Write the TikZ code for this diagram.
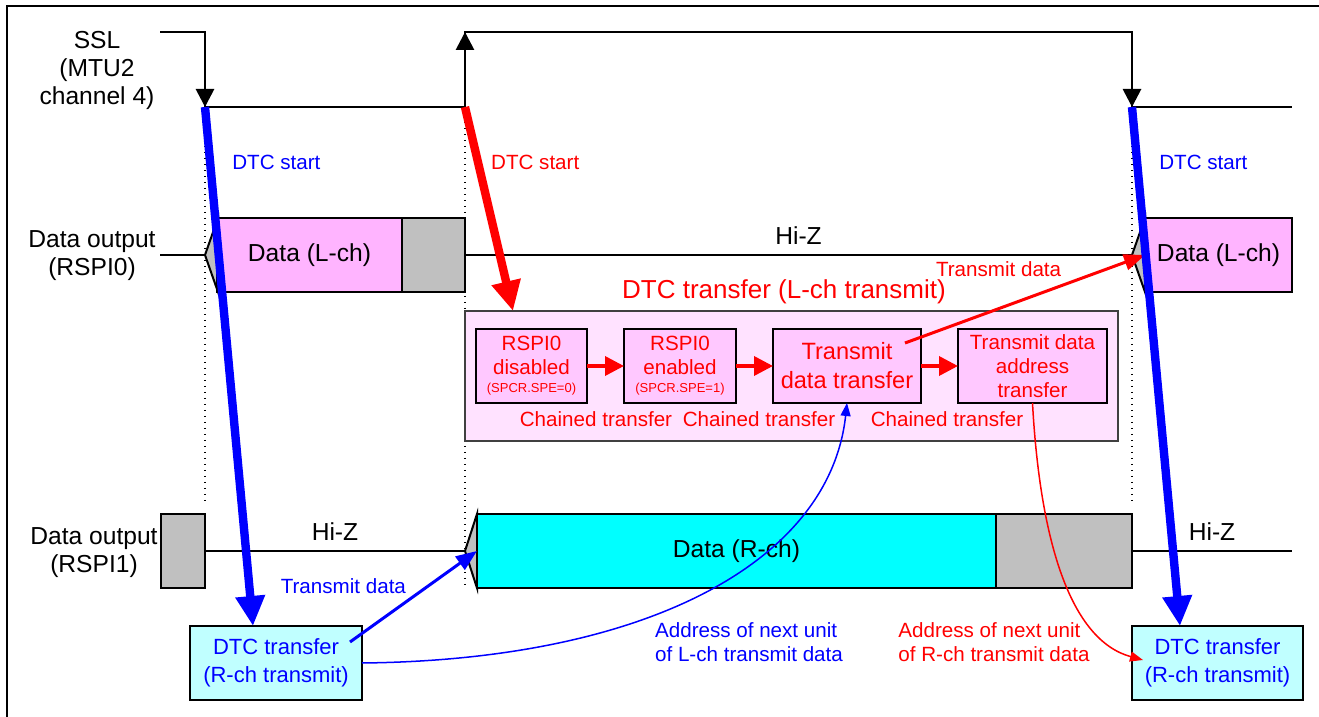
\documentclass[tikz,border=0pt]{standalone}
\usepackage{fontspec}
\setmainfont{Liberation Sans}
\usetikzlibrary{arrows.meta,positioning}

\definecolor{lchpink}{RGB}{255,180,255}
\definecolor{boxpink}{RGB}{255,200,255}
\definecolor{panelpink}{RGB}{255,226,255}
\definecolor{rchcyan}{RGB}{0,255,255}
\definecolor{rchlight}{RGB}{192,255,255}
\definecolor{hizgray}{RGB}{192,192,192}

\newcommand{\bigfont}{\fontsize{12.3}{14}\selectfont}
\newcommand{\midfont}{\fontsize{11.8}{14.5}\selectfont}
\newcommand{\rchfont}{\fontsize{11}{14}\selectfont}
\newcommand{\lblfont}{\fontsize{10.3}{12}\selectfont}
\newcommand{\regfont}{\fontsize{6.5}{7.5}\selectfont}
\newcommand{\titlefont}{\fontsize{13}{15}\selectfont}

\tikzset{
	sigline/.style={line width=1.4pt},
	sigtip/.style={-{Triangle[length=9pt,width=9pt]}},
	hizline/.style={line width=0.7pt},
	dotline/.style={line width=0.6pt, dash pattern=on 0.6pt off 2.4pt},
	databox/.style={rectangle, draw=black, line width=1pt, minimum height=37pt, inner sep=0pt, outer sep=0pt, font=\bigfont},
	chainbox/.style={rectangle, draw=black, fill=boxpink, line width=1pt, minimum height=37pt, inner sep=0pt, outer sep=0pt, align=center, text=red, font=\lblfont},
	rchbox/.style={rectangle, draw=black, fill=rchlight, line width=1pt, minimum height=37pt, inner sep=0pt, outer sep=0pt, align=center, text=blue, font=\rchfont},
	lbl/.style={inner sep=0pt, font=\lblfont},
	bigarrow/.style={line width=4.2pt, -{Triangle[length=15pt,width=14pt]}},
	chainarrow/.style={red, line width=1.8pt, -{Triangle[length=9.5pt,width=9.5pt]}},
	xferarrow/.style={line width=1.5pt, -{Triangle[length=10.5pt,width=8pt]}},
	curvearrow/.style={line width=0.75pt, -{Triangle[length=6.5pt,width=5pt]}}
}

\begin{document}
\begin{tikzpicture}[x=0.5pt,y=-0.5pt]
	\useasboundingbox (0,0) rectangle (1319,717);

	\draw[line width=1pt] (7,717) -- (7,6) -- (1319,6);

	% SSL edges
	\coordinate(ssl-fall-1) at (205,107);
	\coordinate(ssl-rise) at (465,107);
	\coordinate(ssl-fall-2) at (1132,107);

	\draw[dotline] (205,110) -- (205,503);
	\draw[dotline] (465,110) -- (465,588);
	\draw[dotline] (1132,110) -- (1132,503);

	\draw[sigline] (160,32) -| (ssl-fall-1) -- (ssl-rise) -- (465,32) -| (ssl-fall-2) -- (1292,107);
	\draw[sigline, sigtip] (205,70) -- (ssl-fall-1);
	\draw[sigline, sigtip] (465,70) -- (465,32);
	\draw[sigline, sigtip] (1132,70) -- (ssl-fall-2);

	\node(ssl)[align=center, font=\bigfont] at (97,70) {SSL\\(MTU2\\channel 4)};
	\node(out-0)[align=center, font=\bigfont] at (92,256) {Data output\\(RSPI0)};
	\node(out-1)[align=center, font=\bigfont] at (94,553) {Data output\\(RSPI1)};

	% RSPI0
	\draw[hizline] (160,255) -- (205,255);
	\filldraw[fill=hizgray, line width=1pt] (205,255) -- (218,218) -- (218,292) -- cycle;
	\node(lch-1)[databox, fill=lchpink, minimum width=92.5pt] at (309.5,255) {Data (L-ch)};
	\node(gap-1)[databox, fill=hizgray, minimum width=31.5pt, right=0pt of lch-1] {};
	\draw[hizline] (gap-1.east) --node[above=5pt, inner sep=0pt, font=\bigfont]{Hi-Z} (1132,255);
	\filldraw[fill=hizgray, line width=1pt] (1132,255) -- (1145,218) -- (1145,292) -- cycle;
	\node(lch-2)[databox, fill=lchpink, minimum width=73.5pt] at (1218.5,255) {Data (L-ch)};

	% RSPI1
	\node(gap-2)[databox, fill=hizgray, minimum width=22pt] at (183,551) {};
	\draw[hizline] (gap-2.east) --node[above=5pt, inner sep=0pt, font=\bigfont]{Hi-Z} (465,551);
	\filldraw[fill=hizgray, line width=1pt] (465,551) -- (477,514) -- (477,588) -- cycle;
	\node(rdata)[databox, fill=rchcyan, minimum width=259.5pt] at (736.5,551) {Data (R-ch)};
	\node(gap-3)[databox, fill=hizgray, minimum width=68pt, right=0pt of rdata] {};
	\draw[hizline] (gap-3.east) --node[above=5pt, inner sep=0pt, font=\bigfont]{Hi-Z} (1292,551);

	% L-ch transfer
	\node(ltx)[rectangle, draw=black!75, fill=panelpink, line width=0.8pt, minimum width=326.5pt, minimum height=65pt, outer sep=0pt] at (791.5,376) {};
	\node(ltx-title)[font=\titlefont, text=red] at (784,292) {DTC transfer (L-ch transmit)};

	\node(dis)[chainbox, minimum width=55.5pt] at (531.5,366) {RSPI0\\disabled\\[-3pt]{\regfont (SPCR.SPE=0)}};
	\node(ena)[chainbox, minimum width=56pt, right=18.5pt of dis] {RSPI0\\enabled\\[-3pt]{\regfont (SPCR.SPE=1)}};
	\node(txd)[chainbox, minimum width=74pt, font=\midfont, right=18.5pt of ena] {Transmit\\data transfer};
	\node(addr)[chainbox, minimum width=74.5pt, right=18.5pt of txd] {Transmit data\\address\\transfer};

	\draw[chainarrow] (dis) -- (ena);
	\draw[chainarrow] (ena) -- (txd);
	\draw[chainarrow] (txd) -- (addr);

	\node(chain-1)[lbl, text=red] at (596,419.5) {Chained transfer};
	\node(chain-2)[lbl, text=red] at (759,419.5) {Chained transfer};
	\node(chain-3)[lbl, text=red] at (947,419.5) {Chained transfer};

	% R-ch transfer
	\node(rch-1)[rchbox, minimum width=86pt] at (276,663) {DTC transfer\\(R-ch transmit)};
	\node(rch-2)[rchbox, minimum width=85.5pt] at (1217.5,663) {DTC transfer\\(R-ch transmit)};

	\node(next-l)[lbl, text=blue, align=left] at (749,642) {Address of next unit\\of L-ch transmit data};
	\node(next-r)[lbl, text=red, align=left] at (994,642) {Address of next unit\\of R-ch transmit data};

	\draw[curvearrow, blue] (rch-1.east) .. controls (650,660) and (830,560) .. (txd.south);
	\draw[curvearrow, red] (addr.south) .. controls (1040,540) and (1070,640) .. ([shift={(11,-3)}]rch-2.west);

	\draw[xferarrow, red] (txd.north east) ++(-16,14) --node[pos=0.39, above=15pt, lbl]{Transmit data} (lch-2.west);
	\draw[xferarrow, blue] (rch-1.north east) ++(-12,16) --node[pos=0.61, left=10pt, lbl]{Transmit data} (rdata.west);

	\draw[bigarrow, blue] (ssl-fall-1) --node[pos=0.106, right=9pt, lbl]{DTC start} (253,0 |- rch-1.north);
	\draw[bigarrow, red] (ssl-rise) --node[pos=0.27, right=4.5pt, lbl]{DTC start} (513,0 |- ltx.north);
	\draw[bigarrow, blue] (ssl-fall-2) --node[pos=0.106, right=9pt, lbl]{DTC start} (1180,0 |- rch-2.north);
\end{tikzpicture}
\end{document}
